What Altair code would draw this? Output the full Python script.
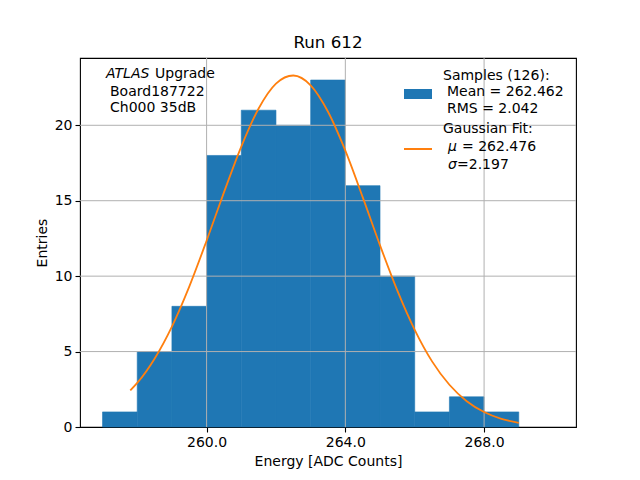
import altair as alt
import pandas as pd

# Histogram data
bin_start = [257, 258, 259, 260, 261, 262, 263, 264, 265, 266, 267, 268, 269]
bin_end = [258, 259, 260, 261, 262, 263, 264, 265, 266, 267, 268, 269, 270]
counts = [1, 5, 8, 18, 21, 20, 23, 16, 10, 1, 2, 1, 0]

# Gaussian fit curve
fit_x = [257.8, 258.0, 258.5, 259.0, 259.5, 260.0, 260.5, 261.0, 261.5, 262.0,
         262.5, 263.0, 263.5, 264.0, 264.5, 265.0, 265.5, 266.0, 266.5, 267.0,
         267.5, 268.0, 268.5, 269.0]
fit_y = [2.42, 2.92, 4.53, 6.66, 9.31, 12.35, 15.55, 18.59, 21.11, 22.76,
         23.30, 22.65, 20.90, 18.32, 15.24, 12.04, 9.04, 6.44, 4.35, 2.80,
         1.71, 0.99, 0.54, 0.28]

x_ticks = [260, 264, 268]
y_ticks = [0, 5, 10, 15, 20]

FONT = "DejaVu Sans"
BLUE = "#1f77b4"
ORANGE = "#ff7f0e"
GRID = "#b0b0b0"

W, H = 496, 369
xscale = alt.Scale(domain=[256.35, 270.65], nice=False, zero=False)
yscale = alt.Scale(domain=[0, 24.46], nice=False, zero=False)

hist_df = pd.DataFrame({"x0": bin_start, "x1": bin_end, "n": counts})
fit_df = pd.DataFrame({"x": fit_x, "y": fit_y})

bars = alt.Chart(hist_df).mark_rect(color=BLUE, stroke=BLUE, strokeWidth=0.6).encode(
    x=alt.X("x0:Q", scale=xscale,
            axis=alt.Axis(values=x_ticks, format=".1f", title="Energy [ADC Counts]", grid=False)),
    x2="x1:Q",
    y=alt.Y("n:Q", scale=yscale,
            axis=alt.Axis(values=y_ticks, format="d", title="Entries", grid=False)),
    y2=alt.datum(0),
).transform_filter("datum.n > 0")

vgrid = alt.Chart(pd.DataFrame({"v": x_ticks})).mark_rule(color=GRID, strokeWidth=1).encode(
    x=alt.X("v:Q", scale=xscale)
)
hgrid = alt.Chart(pd.DataFrame({"v": y_ticks[1:]})).mark_rule(color=GRID, strokeWidth=1).encode(
    y=alt.Y("v:Q", scale=yscale)
)

curve = alt.Chart(fit_df).mark_line(color=ORANGE, strokeWidth=1.8, interpolate="monotone").encode(
    x=alt.X("x:Q", scale=xscale),
    y=alt.Y("y:Q", scale=yscale),
)

# Annotation texts (pixel positions inside plot area; plot origin at page (80,58))
OX, OY = 80, 58

def txt(s, px, py, italic=False):
    return alt.Chart(pd.DataFrame({"t": [s]})).mark_text(
        align="left", baseline="middle", font=FONT, fontSize=14,
        fontStyle="italic" if italic else "normal", color="black"
    ).encode(x=alt.value(px - OX), y=alt.value(py - OY), text="t:N")

texts = [
    txt("ATLAS", 106, 74, italic=True),
    txt("Upgrade", 155, 74),
    txt("Board187722", 110, 92),
    txt("Ch000 35dB", 110, 108),
    txt("Samples (126):", 443, 76),
    txt("Mean = 262.462", 447, 92),
    txt("RMS = 2.042", 447, 109),
    txt("Gaussian Fit:", 443, 129),
    txt("\u03bc", 448, 147, italic=True),
    txt("= 262.476", 462, 147),
    txt("\u03c3", 448, 165, italic=True),
    txt("=2.197", 457, 165),
]

leg_patch = alt.Chart(pd.DataFrame({"a": [0]})).mark_rect(color=BLUE).encode(
    x=alt.value(404 - OX), x2=alt.value(432 - OX),
    y=alt.value(89 - OY), y2=alt.value(99 - OY),
)
leg_line = alt.Chart(pd.DataFrame({"a": [0]})).mark_rule(color=ORANGE, strokeWidth=2).encode(
    x=alt.value(404 - OX), x2=alt.value(432 - OX), y=alt.value(149 - OY)
)

chart = alt.layer(bars, vgrid, hgrid, curve, leg_patch, leg_line, *texts).properties(
    width=W, height=H,
    background="white",
    title=alt.TitleParams("Run 612", font=FONT, fontSize=16.7, fontWeight="normal",
                          color="black", offset=6),
    autosize=alt.AutoSizeParams(type="none"),
    padding={"left": 72, "top": 50, "right": 56, "bottom": 45},
).configure_view(
    stroke="black", strokeWidth=1.1
).configure_axis(
    labelFont=FONT, labelFontSize=14, labelColor="black",
    titleFont=FONT, titleFontSize=14, titleFontWeight="normal", titleColor="black",
    tickColor="black", tickSize=5, tickWidth=1.1, domain=False,
    labelPadding=3, titlePadding=5,
)

chart.save("out.html", embed_options={"renderer": "svg", "actions": False})
